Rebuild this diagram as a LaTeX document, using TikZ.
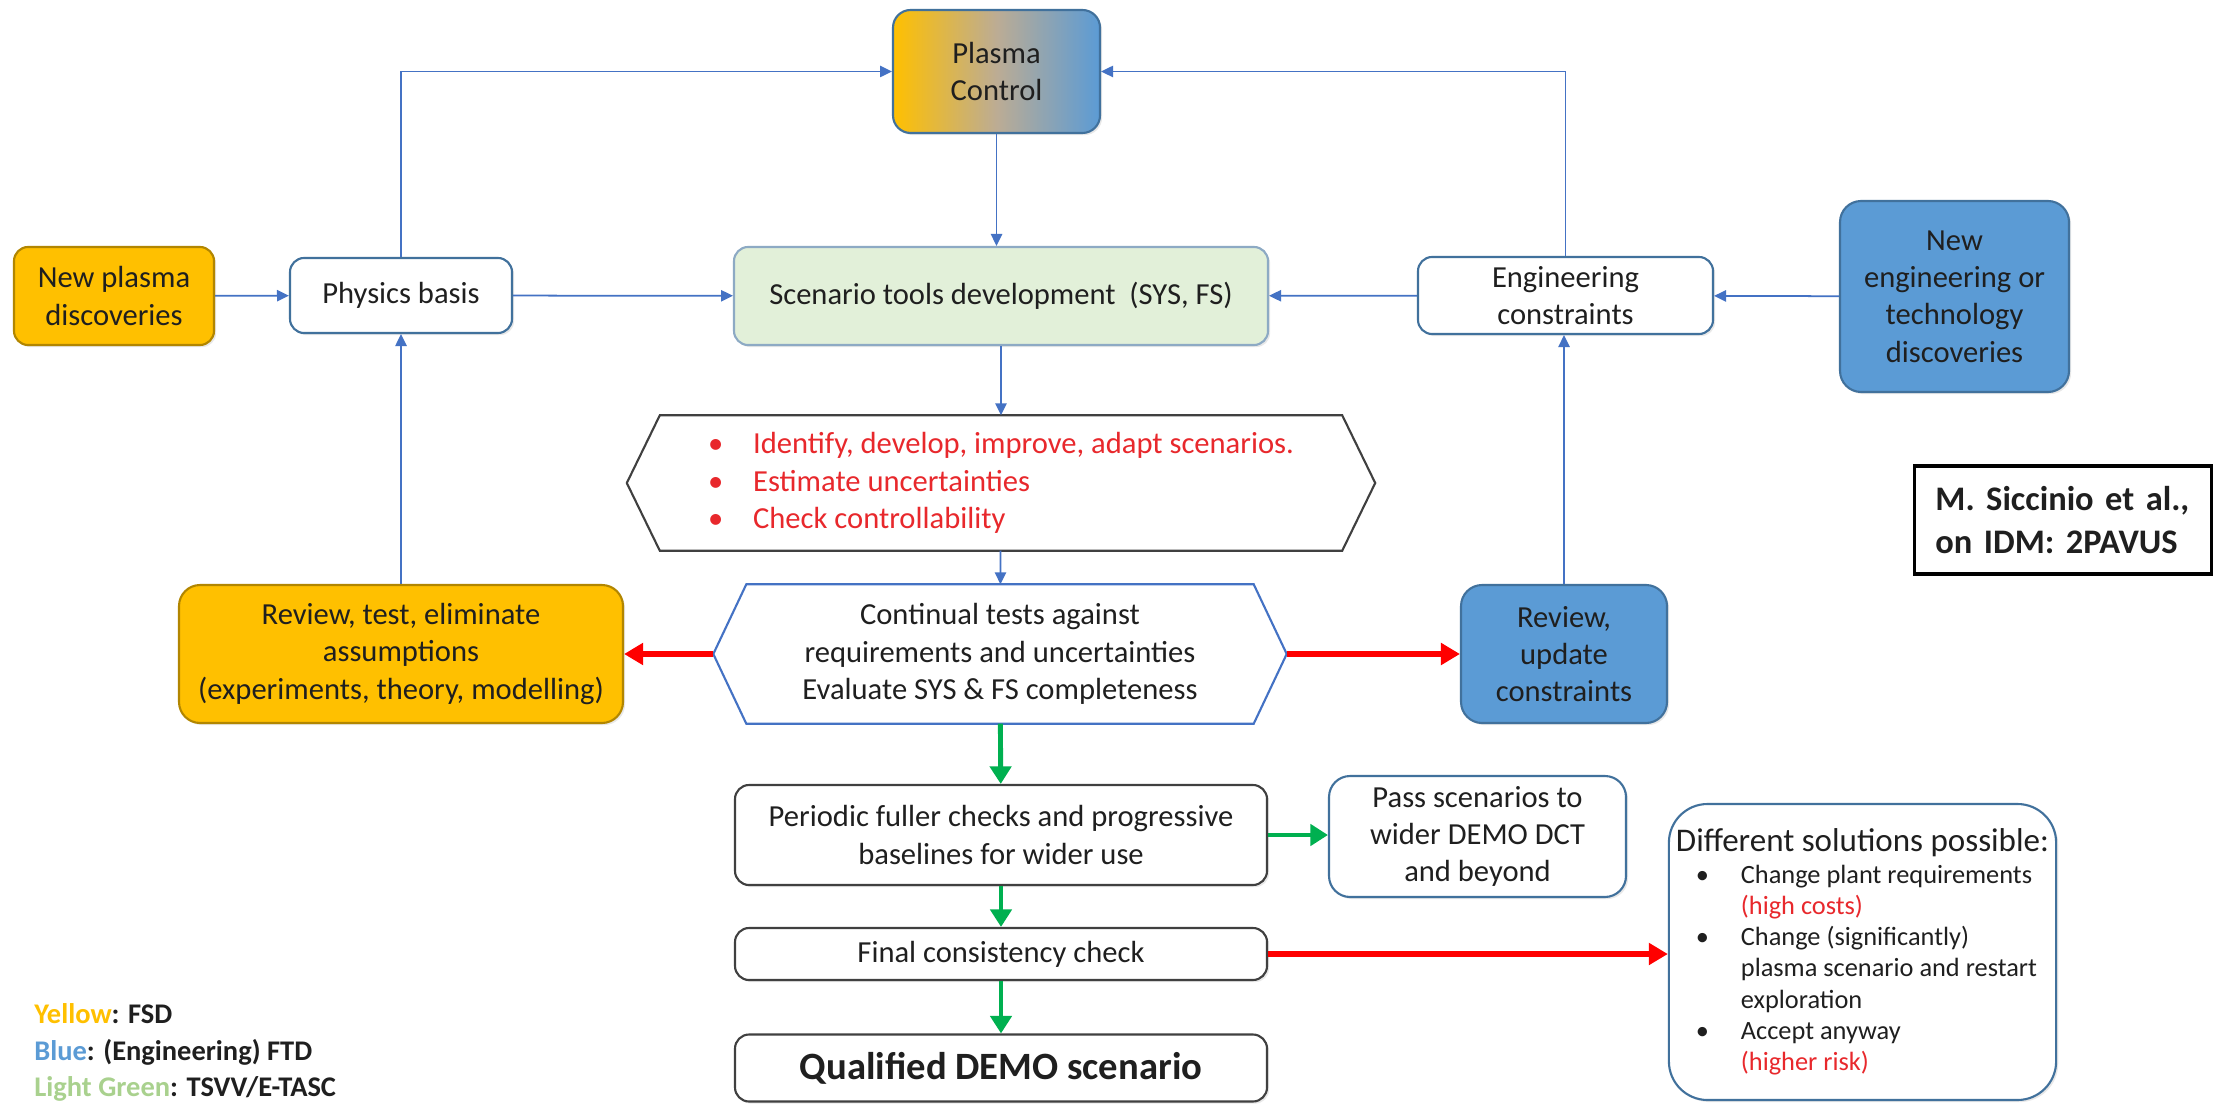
\documentclass[tikz,border=0pt]{standalone}
\usepackage{fontspec}
\setmainfont{Carlito}
\usetikzlibrary{positioning,arrows.meta,shadows,calc}
\definecolor{gold}{HTML}{FFC000}
\definecolor{skyB}{HTML}{5B9BD5}
\definecolor{lineB}{HTML}{4472C4}
\definecolor{edgeB}{HTML}{41719C}
\definecolor{paleG}{HTML}{E2F0D9}
\definecolor{legG}{HTML}{A9D18E}
\definecolor{arrR}{HTML}{FF0000}
\definecolor{txtR}{HTML}{E8282C}
\definecolor{arrG}{HTML}{00B050}
\definecolor{edgeK}{HTML}{404040}
\definecolor{midC}{HTML}{BCAC94}

\begin{document}
\begin{tikzpicture}[
	font=\fontsize{8.7}{10.6}\selectfont,
	text=black!88,
	BoxStyle/.style={draw=edgeB, fill=white, rounded corners=4pt, align=center,
		inner sep=2pt, line width=0.6pt,
		drop shadow={opacity=0.18, shadow xshift=0.6pt, shadow yshift=-0.6pt}},
	GreyBox/.style={BoxStyle, draw=edgeK},
	GoldBox/.style={BoxStyle, draw=gold!70!black, fill=gold},
	BlueBox/.style={BoxStyle, draw=edgeB, fill=skyB, rounded corners=6pt},
	GreenBox/.style={BoxStyle, draw=edgeB!60, fill=paleG},
	HexText/.style={align=center, inner sep=0pt},
	BlueArrow/.style={lineB, line width=0.5pt, -{Triangle[length=3.4pt,width=3.2pt]}},
	RedArrow/.style={arrR, line width=1.7pt, -{Triangle[length=5.4pt,width=6pt]}},
	GreenArrow/.style={arrG, line width=1.4pt, -{Triangle[length=5pt,width=6pt]}},
	]
	\fill[white] (0,0) rectangle (22.15,11.05);
	\useasboundingbox (0,0) rectangle (22.15,11.05);

	% top row
	\node [BoxStyle, draw=edgeB, rounded corners=5pt, left color=gold, right color=skyB, middle color=midC,
		minimum width=2.07cm, minimum height=1.23cm] (pc) at (9.965,10.335) {Plasma\\Control};
	\node [GoldBox, minimum width=2cm, minimum height=0.98cm] (npd) at (1.14,8.09) {New plasma\\discoveries};
	\node [BoxStyle, minimum width=2.22cm, minimum height=0.75cm] (pb) at (4.01,8.095) {Physics basis};
	\node [GreenBox, minimum width=5.34cm, minimum height=0.98cm] (std) at (10.01,8.09) {Scenario tools development~~(SYS, FS)};
	\node [BoxStyle, minimum width=2.95cm, minimum height=0.77cm] (ec) at (15.655,8.095) {Engineering\\constraints};
	\node [BlueBox, minimum width=2.29cm, minimum height=1.91cm] (ned) at (19.545,8.085) {New\\engineering or\\technology\\discoveries};

	% hexagons
	\node [HexText, align=left, text=txtR, minimum width=6.81cm, minimum height=1.34cm] (tasks) at (10.01,6.22)
		{\makebox[0.45cm][l]{\textbullet}Identify, develop, improve, adapt scenarios.\\
		 \makebox[0.45cm][l]{\textbullet}Estimate uncertainties\\
		 \makebox[0.45cm][l]{\textbullet}Check controllability};
	\draw [edgeK, line width=0.6pt] (tasks.north west) -- (tasks.north east) -- ([xshift=0.33cm]tasks.east)
		-- (tasks.south east) -- (tasks.south west) -- ([xshift=-0.33cm]tasks.west) -- cycle;
	\node [HexText, minimum width=5.06cm, minimum height=1.38cm] (tests) at (10,4.51)
		{Continual tests against\\requirements and uncertainties\\Evaluate SYS \& FS completeness};
	\coordinate (tests-w) at ([xshift=-0.33cm]tests.west);
	\coordinate (tests-e) at ([xshift=0.33cm]tests.east);
	\draw [lineB, line width=0.6pt] (tests.north west) -- (tests.north east) -- (tests-e)
		-- (tests.south east) -- (tests.south west) -- (tests-w) -- cycle;

	% review boxes
	\node [GoldBox, rounded corners=6pt, minimum width=4.44cm, minimum height=1.38cm] (rta) at (4.01,4.51)
		{Review, test, eliminate\\assumptions\\(experiments, theory, modelling)};
	\node [BlueBox, minimum width=2.06cm, minimum height=1.38cm] (ruc) at (15.64,4.51) {Review,\\update\\constraints};

	% lower chain
	\node [GreyBox, minimum width=5.32cm, minimum height=1cm] (pfc) at (10.01,2.70)
		{Periodic fuller checks and progressive\\baselines for wider use};
	\node [BoxStyle, rounded corners=6pt, minimum width=2.97cm, minimum height=1.21cm] (psd) at (14.775,2.685)
		{Pass scenarios to\\wider DEMO DCT\\and beyond};
	\node [GreyBox, minimum width=5.32cm, minimum height=0.52cm] (fcc) at (10.01,1.51) {Final consistency check};
	\node [GreyBox, minimum width=5.32cm, minimum height=0.67cm, font=\bfseries\fontsize{11}{13}\selectfont]
		(qds) at (10.01,0.37) {Qualified DEMO scenario};
	\node [BoxStyle, rounded corners=11pt, align=left, minimum width=3.81cm, minimum height=2.96cm,
		font=\fontsize{7.5}{8.9}\selectfont] (dsp) at (18.625,1.53)
		{{\fontsize{9.4}{10.4}\selectfont Different solutions possible:}\\
		 \hspace*{0.2cm}\makebox[0.45cm][l]{\textbullet}Change plant requirements\\
		 \hspace*{0.65cm}\textcolor{txtR}{(high costs)}\\
		 \hspace*{0.2cm}\makebox[0.45cm][l]{\textbullet}Change (significantly)\\
		 \hspace*{0.65cm}plasma scenario and restart\\
		 \hspace*{0.65cm}exploration\\
		 \hspace*{0.2cm}\makebox[0.45cm][l]{\textbullet}Accept anyway\\
		 \hspace*{0.65cm}\textcolor{txtR}{(higher risk)}};

	% reference and legend
	\node [draw=black, line width=0.9pt, align=left, text width=2.55cm, inner xsep=0.21cm, inner ysep=0pt,
		minimum width=2.97cm, minimum height=1.08cm, anchor=east, font=\bfseries\fontsize{9.8}{12}\selectfont]
		(ref) at (22.13,5.85) {M. Siccinio et al.,\\on IDM: 2PAVUS};
	\node [anchor=west, align=left, font=\bfseries\fontsize{8.1}{10.5}\selectfont] (legend) at (0.22,0.525)
		{\textcolor{gold}{Yellow}: FSD\\\textcolor{skyB}{Blue}: (Engineering) FTD\\\textcolor{legG}{Light Green}: TSVV/E-TASC};

	% connectors
	\begin{scope}[BlueArrow]
	\draw (pb.north) |- (pc.west);
	\draw (ec.north) |- (pc.east);
	\draw (pc.south) -- (pc.south |- std.north);
	\draw (npd) -- (pb);
	\draw (pb) -- (std);
	\draw (ned) -- (ec);
	\draw (ec) -- (std);
	\draw (std) -- (tasks);
	\draw (tasks) -- (tests);
	\draw (rta) -- (pb);
	\draw (ruc.north) -- (ruc.north |- ec.south);
	\end{scope}
	\draw [RedArrow] (tests-w) -- (rta.east);
	\draw [RedArrow] (tests-e) -- (ruc.west);
	\draw [RedArrow] (fcc.east) -- (fcc.east -| dsp.west);
	\draw [GreenArrow] (tests) -- (pfc);
	\draw [GreenArrow] (pfc.east) -- (pfc.east -| psd.west);
	\draw [GreenArrow] (pfc) -- (fcc);
	\draw [GreenArrow] (fcc) -- (qds);
\end{tikzpicture}
\end{document}
